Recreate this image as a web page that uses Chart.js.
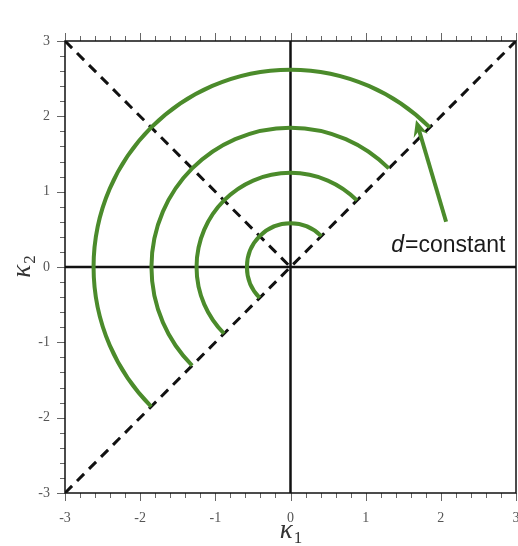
<!DOCTYPE html>
<html>
<head>
<meta charset="utf-8">
<script src="https://cdn.jsdelivr.net/npm/chart.js@4/dist/chart.umd.min.js"></script>
<style>
  html, body { margin: 0; padding: 0; background: #ffffff; }
  #wrap { width: 518px; height: 546px; }
</style>
</head>
<body>
<div id="wrap"><canvas id="chart" width="518" height="546"></canvas></div>
<script>
// Axis range and labelled ticks (kappa_1, kappa_2)
const axisMin = -3;
const axisMax = 3;
const tickLabels = [-3, -2, -1, 0, 1, 2, 3];
const minorStep = 0.2;

// Coordinate axes through the origin
const verticalAxisLine = [{ x: 0, y: -3 }, { x: 0, y: 3 }];
const horizontalAxisLine = [{ x: -3, y: 0 }, { x: 3, y: 0 }];

// Dashed bounding lines kappa_2 = -kappa_1 (upper-left) and kappa_2 = kappa_1
const antiDiagonal = [{ x: -3, y: 3 }, { x: 0, y: 0 }];
const mainDiagonal = [{ x: -3, y: -3 }, { x: 3, y: 3 }];

// Level curves d = constant: radii and angular span (degrees)
const levelRadii = [0.58, 1.25, 1.85, 2.62];
const arcFromDeg = 45;
const arcToDeg = 225;

// Annotation arrow (tail -> tip) and its label
const arrowTail = { x: 2.07, y: 0.60 };
const arrowTip = { x: 1.67, y: 1.95 };
const noteAnchor = { x: 1.34, y: 0.2 };
const noteItalic = 'd';
const noteRest = '=constant';

const GREEN = '#4b8b2b';

const decorations = {
  id: 'decorations',
  beforeDatasetsDraw(chart) {
    const { ctx, chartArea: a, scales: { x, y } } = chart;
    ctx.save();
    // tick marks: left, bottom, top
    ctx.strokeStyle = '#666';
    ctx.lineWidth = 1;
    const n = Math.round((axisMax - axisMin) / minorStep);
    for (let i = 0; i <= n; i++) {
      const v = axisMin + i * minorStep;
      const major = Math.abs(v - Math.round(v)) < 1e-6;
      const len = major ? 8 : 5;
      const px = Math.round(x.getPixelForValue(v)) + 0.5;
      const py = Math.round(y.getPixelForValue(v)) + 0.5;
      ctx.beginPath();
      ctx.moveTo(a.left, py); ctx.lineTo(a.left - len, py);
      ctx.moveTo(px, a.bottom); ctx.lineTo(px, a.bottom + len);
      ctx.moveTo(px, a.top); ctx.lineTo(px, a.top - len);
      ctx.stroke();
    }
    // frame
    ctx.strokeStyle = '#111';
    ctx.lineWidth = 1.5;
    ctx.strokeRect(a.left, a.top, a.right - a.left, a.bottom - a.top);
    ctx.restore();
  },
  afterDatasetsDraw(chart) {
    const { ctx, scales: { x, y } } = chart;
    ctx.save();
    // level arcs
    const cx = x.getPixelForValue(0);
    const cy = y.getPixelForValue(0);
    ctx.strokeStyle = GREEN;
    ctx.lineWidth = 4;
    ctx.lineCap = 'butt';
    levelRadii.forEach(r => {
      const rx = Math.abs(x.getPixelForValue(r) - cx);
      const ry = Math.abs(y.getPixelForValue(r) - cy);
      ctx.beginPath();
      ctx.ellipse(cx, cy, rx, ry, 0, -arcFromDeg * Math.PI / 180, -arcToDeg * Math.PI / 180, true);
      ctx.stroke();
    });
    // arrow
    const tx = x.getPixelForValue(arrowTail.x), ty = y.getPixelForValue(arrowTail.y);
    const hx = x.getPixelForValue(arrowTip.x), hy = y.getPixelForValue(arrowTip.y);
    const ang = Math.atan2(hy - ty, hx - tx);
    const headLen = 18, headHalf = 0.42;
    ctx.beginPath();
    ctx.moveTo(tx, ty);
    ctx.lineTo(hx - Math.cos(ang) * 8, hy - Math.sin(ang) * 8);
    ctx.stroke();
    ctx.fillStyle = GREEN;
    ctx.beginPath();
    ctx.moveTo(hx, hy);
    ctx.lineTo(hx - headLen * Math.cos(ang - headHalf), hy - headLen * Math.sin(ang - headHalf));
    ctx.lineTo(hx - headLen * 0.6 * Math.cos(ang), hy - headLen * 0.6 * Math.sin(ang));
    ctx.lineTo(hx - headLen * Math.cos(ang + headHalf), hy - headLen * Math.sin(ang + headHalf));
    ctx.closePath();
    ctx.fill();
    // annotation text
    const lx = x.getPixelForValue(noteAnchor.x);
    const ly = y.getPixelForValue(noteAnchor.y);
    ctx.fillStyle = '#1a1a1a';
    ctx.textBaseline = 'alphabetic';
    ctx.textAlign = 'left';
    ctx.font = 'italic 23px "Liberation Sans", Arial, sans-serif';
    ctx.fillText(noteItalic, lx, ly);
    const w = ctx.measureText(noteItalic).width;
    ctx.font = '23px "Liberation Sans", Arial, sans-serif';
    ctx.fillText(noteRest, lx + w + 1, ly);

    // axis titles: kappa with numeric subscript
    const drawKappa = (sub, px, py) => {
      ctx.font = 'italic 27px "Liberation Serif", "DejaVu Serif", serif';
      const kw = ctx.measureText('κ').width;
      ctx.font = '17px "Liberation Serif", "DejaVu Serif", serif';
      const sw = ctx.measureText(sub).width;
      const start = -(kw + sw) / 2;
      ctx.font = 'italic 27px "Liberation Serif", "DejaVu Serif", serif';
      ctx.fillText('κ', px + start, py);
      ctx.font = '17px "Liberation Serif", "DejaVu Serif", serif';
      ctx.fillText(sub, px + start + kw + 1, py + 5);
    };
    ctx.fillStyle = '#333';
    drawKappa('1', x.getPixelForValue(0), 538);
    ctx.translate(30, y.getPixelForValue(0));
    ctx.rotate(-Math.PI / 2);
    drawKappa('2', 0, 0);
    ctx.restore();
  }
};

const lineStyle = (data, dashed) => ({
  data,
  showLine: true,
  borderColor: '#111',
  borderWidth: dashed ? 3 : 2.5,
  borderDash: dashed ? [10, 7] : [],
  pointRadius: 0,
  fill: false,
  tension: 0
});

const tickFont = { family: '"Liberation Serif", "Times New Roman", serif', size: 14 };

new Chart(document.getElementById('chart'), {
  type: 'scatter',
  data: {
    datasets: [
      lineStyle(verticalAxisLine, false),
      lineStyle(horizontalAxisLine, false),
      lineStyle(antiDiagonal, true),
      lineStyle(mainDiagonal, true)
    ]
  },
  options: {
    responsive: false,
    animation: false,
    devicePixelRatio: 1,
    layout: { padding: { top: 41, right: 2, left: 0, bottom: 0 } },
    plugins: { legend: { display: false }, tooltip: { enabled: false } },
    scales: {
      x: {
        type: 'linear', min: axisMin, max: axisMax,
        afterFit: s => { s.height = 53; s.paddingLeft = 0; s.paddingRight = 0; },
        afterBuildTicks: s => { s.ticks = tickLabels.map(v => ({ value: v })); },
        grid: { display: false, drawTicks: false },
        border: { display: false },
        ticks: { padding: 17, color: '#555', font: tickFont, maxRotation: 0 }
      },
      y: {
        type: 'linear', min: axisMin, max: axisMax,
        afterFit: s => { s.width = 65; s.paddingTop = 0; s.paddingBottom = 0; },
        afterBuildTicks: s => { s.ticks = tickLabels.map(v => ({ value: v })); },
        grid: { display: false, drawTicks: false },
        border: { display: false },
        ticks: { padding: 15, color: '#555', font: tickFont }
      }
    }
  },
  plugins: [decorations]
});
</script>
</body>
</html>
